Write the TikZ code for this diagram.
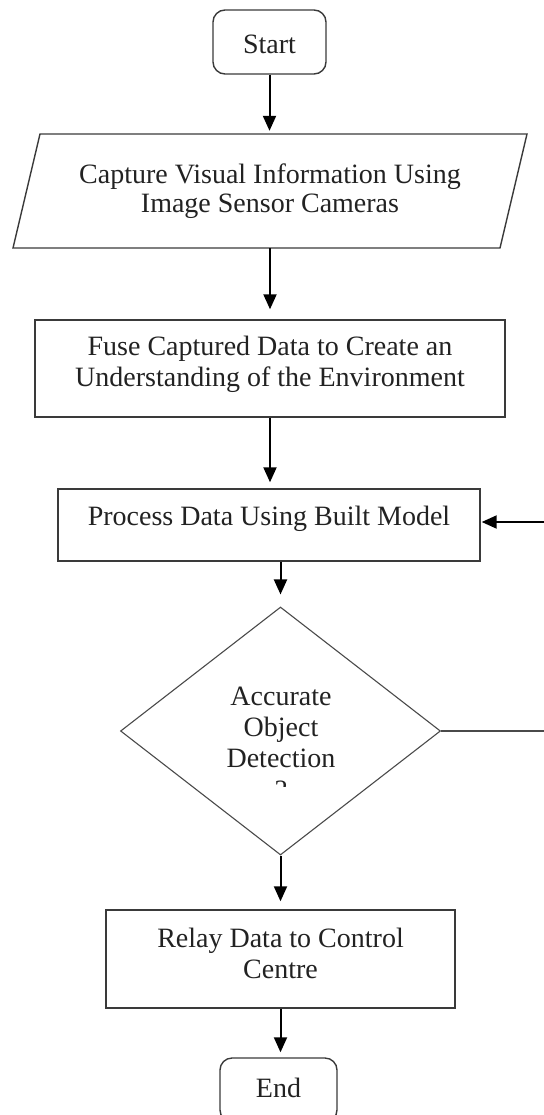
\documentclass[tikz,border=0pt]{standalone}
\usepackage{fontspec}
\setmainfont{Liberation Serif}
\usetikzlibrary{shapes.geometric,arrows.meta}
\definecolor{boxgray}{HTML}{3A3A3A}
\definecolor{diagray}{HTML}{4A4A4A}
\definecolor{txtcol}{HTML}{222222}
\begin{document}
\begin{tikzpicture}[x=1pt,y=-1pt,
  box/.style={draw=boxgray, line width=1.4pt, inner sep=0pt},
  term/.style={box, rounded corners=12pt},
  decisionbox/.style={draw=diagray, line width=1.1pt, shape=diamond, inner sep=0pt},
  txt/.style={font=\fontsize{28}{31}\selectfont, text=txtcol, align=center, inner sep=0pt},
  flow/.style={line width=2pt, draw=black, -{Triangle[length=15pt,width=13pt]}},
  plainline/.style={line width=1.1pt, draw=diagray},
]
\useasboundingbox (0,0) rectangle (543,1115);

% Start
\node[term, minimum width=113pt, minimum height=64pt] (start) at (269.5,42) {};
\node[txt] (starttext) at (269.5,44) {Start};

% Capture (parallelogram)
\draw[box] (40,134) -- (527,134) -- (500,248) -- (13,248) -- cycle;
\node[txt, font=\fontsize{28}{29}\selectfont, minimum height=114pt] (capture) at (270,191)
  {Capture Visual Information Using\\Image Sensor Cameras};

% Fuse
\node[box, minimum width=470pt, minimum height=97pt] (fuse) at (270,368.5) {};
\node[txt] (fusetext) at (270,364.5) {Fuse Captured Data to Create an\\Understanding of the Environment};

% Process
\node[box, minimum width=422pt, minimum height=72pt] (process) at (269,525) {};
\node[txt] (processtext) at (269,519) {Process Data Using Built Model};

% Decision
\node[decisionbox, minimum width=320pt, minimum height=248pt] (decision) at (280.5,731) {};
\node[txt] (decisiontext) at (281,727.5) {Accurate\\Object\\Detection};
\begin{scope}
  \clip (230,775) rectangle (330,786);
  \node[txt, anchor=base] (qmark) at (281,799) {?};
\end{scope}

% Relay
\node[box, minimum width=349pt, minimum height=98pt] (relay) at (280.5,959) {};
\node[txt] (relaytext) at (280.5,953) {Relay Data to Control\\Centre};

% End
\node[term, minimum width=117pt, minimum height=64pt] (end) at (278.5,1090) {};
\node[txt] (endtext) at (278.5,1088) {End};

% Connectors
\draw[flow, shorten >=3pt] (start.south) -- (start.south |- capture.north);
\draw[flow, shorten >=10pt] (capture.south) -- (capture.south |- fuse.north);
\draw[flow, shorten >=6pt] (fuse.south) -- (fuse.south |- process.north);
\draw[flow, shorten >=12pt] (process.south -| decision.north) -- (decision.north);
\draw[flow, shorten >=8pt] (decision.south) -- (decision.south |- relay.north);
\draw[flow, shorten >=5pt] (relay.south) -- (relay.south |- end.north);

% Feedback loop (vertical part lies beyond the page edge)
\coordinate (loopa) at (560,731);
\coordinate (loopb) at (560,522);
\draw[plainline] (decision.east) -- (loopa) -- (loopb);
\draw[flow, shorten >=1pt] (loopb) -- (loopb -| process.east);
\end{tikzpicture}
\end{document}
